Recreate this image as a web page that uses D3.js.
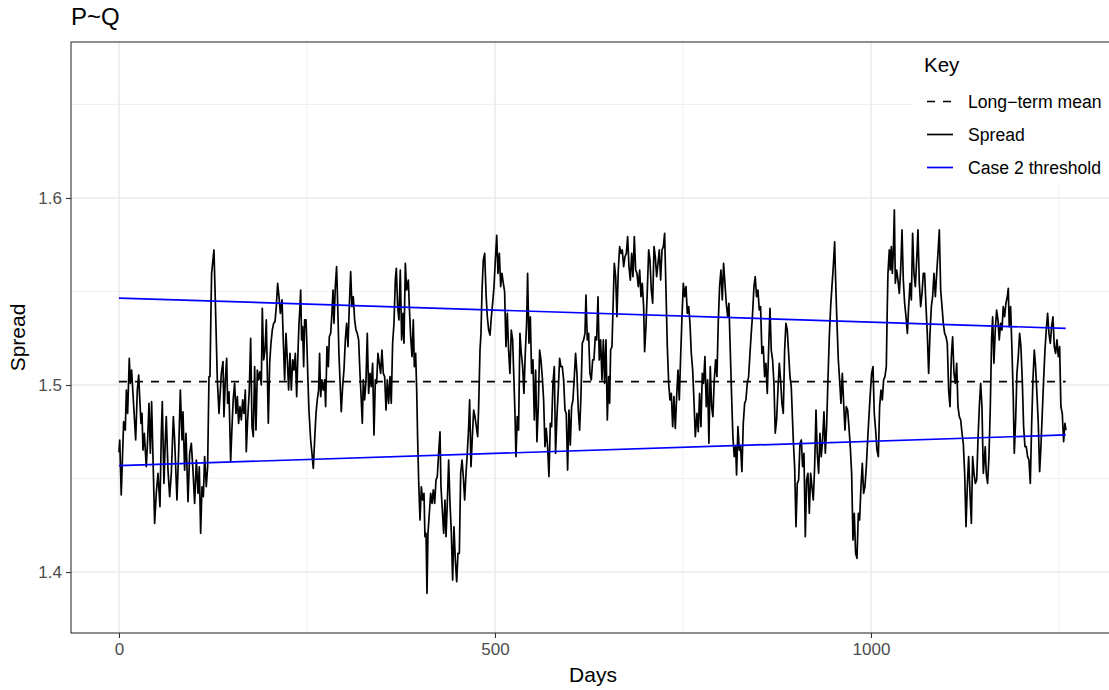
<!DOCTYPE html>
<html>
<head>
<meta charset="utf-8">
<script src="https://cdnjs.cloudflare.com/ajax/libs/d3/7.8.5/d3.min.js"></script>
<style>
  body { margin: 0; background: #fff; }
  svg text { font-family: "Liberation Sans", Arial, sans-serif; }
</style>
</head>
<body>
<div id="chart"></div>
<script>
// Spread series (day, value)
var days = [0,1,3,6.2,8.4,9.8,11.5,13.7,15.1,16.8,18.6,20.4,22.2,24.4,26.2,27.5,29.3,30.6,31.9,33.7,36.3,38.1,39.9,41.7,43.4,45.2,47.4,49.6,51.9,54.5,56.3,57.6,59.8,61.6,62.9,65.2,67.4,69.6,72.3,74,77.1,79.3,81.6,83.8,85.1,87.3,89.1,91.8,94,96.2,98.4,100.6,102.9,105.1,106.8,108.6,110.4,112.2,113.9,116.1,117.9,119.7,121,122.4,123.2,
126.3,128.1,130.8,133,136.1,138.3,139.6,141.4,143.2,144.5,146.3,148.5,150.3,152,153.8,155.6,157.4,159.1,160.9,162.7,164.5,166.2,168,169.3,171.1,173.3,175.1,176.9,178.6,180.4,182.2,184,185.7,187.5,189.3,190.6,192.4,194.2,195.9,197.3,198.6,200.4,202.1,203.9,205.7,207.5,209.2,211,212.8,214.6,216.8,218.5,220.3,222.1,223.9,225.6,227.4,229.2,231,232.7,234.5,236.3,238,239.4,240.7,241.6,242.9,244.2,245.6,246.9,248.7,250,251.3,252.6,254.9,
256.6,258.4,260.2,262,263.7,265.5,266.8,268.2,269.9,271.7,273.5,274.8,276.6,278.4,279.7,281.5,283.2,284.6,285.9,287.7,289.4,290.8,292.5,293.9,295.6,297.4,299.2,301,302.7,304.5,306.3,308.1,309.8,311.6,313.4,315.2,316.9,318.7,320.5,321.8,323.6,324.9,326.7,328.5,330.2,332,333.8,335.5,337.3,339.1,340.9,342.6,344.4,346.2,348,349.7,351.5,353.3,355.1,356.8,358.6,360.4,362.1,363.9,365.7,367.5,368.8,370.6,372.3,374.1,375.9,377.7,379,380.8,382.5,384.8,
386.1,387.9,389.7,391.4,392.8,394.5,395.9,397.2,398.5,400.3,402.1,403.8,405.6,406.9,408.3,409.6,410.9,412.7,414.5,416.3,418,419.8,421.6,423.3,425.1,426.9,428.2,430,431.8,433.5,434.9,436.6,438.4,440.2,442,443.7,445.5,447.3,449.1,450.8,452.6,454.4,456.2,457.9,459.7,461.5,463.2,465,466.3,468.1,469.9,471.7,473.4,475.2,477,478.3,480.1,481.4,482.8,484.5,486.3,488.1,489.8,491.6,493.4,495.2,496.9,498.7,500.5,502.3,504,505.8,507.6,509.3,511.1,
512.8,514.6,516.4,518.1,519.9,521.7,523.5,525.2,526.6,527.9,529.7,531.4,533.2,535,536.8,538.5,540.3,542.1,543.4,545.2,547,548.7,550.5,552.3,554.1,555.8,557.6,559.4,561.1,562.9,564.7,566.5,568.2,570,571.8,573.6,575.3,577.1,578.9,580.6,582.4,584.2,586,587.7,589.5,591.3,593.1,594.8,596.6,598.4,600.2,601.9,603.7,605.5,607.2,609,610.8,612.6,614.3,616.1,617.9,619.7,621,622.8,624.5,626.3,628.1,629.9,631.6,633.4,635.2,637,638.7,
640.5,642.3,644.1,645.8,647.6,649.4,651.2,652.5,653.8,655.6,657.4,658.7,660.5,662.2,664,665.8,667.6,669.3,671.1,672.9,674.7,676.4,678.2,680,681.8,683.5,685.3,687.1,688.8,690.6,692.4,694.2,695.9,697.7,699,700.8,702.6,704.4,706.1,707.9,709.7,711.5,713.2,715,716.8,718.5,720.3,722.1,723.9,725.6,727.4,729.2,731,732.7,734.5,736.3,738,739.8,741.6,743.4,745.1,746.9,748.7,750.5,752.2,754,755.8,757.6,759.3,761.1,762.9,764.6,766.4,
768.6,770.3,772.1,773.9,775.7,777.4,779.2,781,782.8,784.5,786.3,788.1,789.8,791.6,793.4,795.2,796.9,798.7,800.5,802.3,804,805.8,807.6,809.4,811.1,812.9,814.7,816.4,818.2,820,821.3,823.1,824.9,826.6,828.4,830.2,832,833.7,835.5,837.3,839.1,840.8,842.6,844.4,846.1,847.9,849.7,851.5,853.2,855,856.8,858.6,860.3,862.1,863.9,865.7,867.4,869.2,871,872.7,874.5,876.3,878.1,879.8,881.6,883.4,885.2,886.9,888.7,890.5,892.3,894,
896.7,898.5,900.3,902,903.8,905.6,907.4,909.1,910.9,912.7,914.4,916.2,918,919.8,921.5,923.3,925.1,926.9,928.6,930.4,932.2,933.9,935.7,937.5,939.3,941,942.8,944.6,946.4,948.1,949.9,951.7,953,954.8,956.6,958.3,960.1,961.9,963.7,965.4,967.2,969,970.7,972.5,974.3,976.1,977.8,979.6,981.4,983.2,984.9,986.7,988.5,990.2,992,993.8,995.6,997.3,999.1,1000.9,1002.7,1004.4,1006.2,1008,1009.8,1011.5,1013.3,1015.1,1016.8,1018.6,1020.4,1021.7,
1022.6,1024.4,1025.7,1027.1,1028.4,1029.7,1031.1,1032.4,1034.2,1035.9,1037.7,1039.5,1041.3,1043,1044.8,1046.6,1048.4,1050.1,1051.9,1053.7,1055.4,1057.2,1059,1060.8,1062.5,1064.3,1066.1,1067.9,1069.6,1071.4,1073.2,1074.9,1076.7,1078.5,1080.3,1082,1083.8,1085.6,1087.4,1089.1,1090.9,1092.7,1094.5,1096.2,1098,1099.8,1101.5,1103.3,1105.1,1106.9,1108.6,1110.4,1112.2,1114,1115.7,1117.5,1119.3,1121.1,1122.8,1124.6,1126.4,1128.1,1129.9,1131.7,1133.5,1135.2,1137,1138.8,1140.6,1142.3,1144.1,1145.9,1147.6,1149.4,
1152,1153.3,1155.1,1156.9,1158.7,1160.4,1161.8,1163.5,1165.3,1167.1,1168.9,1170.6,1172.4,1174.2,1175.9,1177.7,1179.5,1181.3,1182.6,1183.9,1185.7,1187.5,1189.2,1190.6,1192.4,1194.1,1195.9,1197.7,1199.4,1201.2,1203,1204.8,1206.5,1208.3,1210.1,1211.9,1213.6,1215.4,1217.2,1218.9,1220.7,1222.5,1224.3,1226,1227.8,1229.6,1231.4,1233.1,1234.9,1236.7,1238.5,1240.2,1242,1243.8,1245.5,1247.3,1249.1,1250.9,1252.6,1254.4,1256.2,1258,1259.3];

var spread = [1.4640,1.4706,1.4412,1.4804,1.4759,1.4973,1.4848,1.5143,1.5009,1.5080,1.4955,1.4831,1.4706,1.4973,1.5053,1.4938,1.4795,1.4848,1.4652,1.4742,1.4563,1.4706,1.4902,1.4635,1.4911,1.4617,1.4260,1.4421,1.4528,1.4349,1.4742,1.4911,1.4474,1.4706,1.4831,1.4545,1.4403,1.4528,1.4831,1.4706,1.4385,1.4635,1.4973,1.4706,1.4857,1.4545,1.4742,1.4376,1.4635,1.4688,1.4545,1.4367,1.4599,1.4421,1.4563,1.4207,1.4456,1.4403,1.4617,1.4456,1.4563,1.5045,1.5045,1.5419,1.5597,
1.5722,1.5455,1.5027,1.4848,1.5062,1.5125,1.4831,1.5027,1.5143,1.4902,1.4964,1.4590,1.4777,1.4929,1.5009,1.4848,1.4938,1.4795,1.4884,1.4813,1.4920,1.4848,1.4973,1.4643,1.4813,1.4973,1.5250,1.4777,1.4724,1.5098,1.4759,1.5080,1.5027,1.5071,1.5000,1.5410,1.5134,1.5187,1.5348,1.5062,1.4795,1.5116,1.5223,1.5294,1.5330,1.5339,1.5419,1.5544,1.5472,1.5383,1.5455,1.5241,1.5027,1.5276,1.5134,1.4973,1.5169,1.4973,1.5134,1.5080,1.5169,1.4938,1.5169,1.5330,1.5419,1.5508,1.5241,1.5312,1.5098,1.5348,1.5348,1.5205,1.5027,1.4866,1.4706,
1.4635,1.4554,1.4706,1.4848,1.4920,1.4973,1.5169,1.4938,1.5027,1.4973,1.5027,1.4884,1.5205,1.5098,1.5258,1.5276,1.5383,1.5508,1.5330,1.5526,1.5633,1.5437,1.5169,1.5027,1.4857,1.4991,1.5080,1.5241,1.5330,1.5205,1.5419,1.5606,1.5419,1.5472,1.5348,1.5294,1.5276,1.5241,1.5062,1.4955,1.4795,1.5027,1.4920,1.5027,1.5276,1.4955,1.5062,1.4991,1.5116,1.4733,1.5027,1.5009,1.5169,1.5116,1.5062,1.5187,1.5062,1.5045,1.4866,1.5027,1.4902,1.5045,1.4902,1.5223,1.5330,1.5561,1.5624,1.5419,1.5348,1.5615,1.5241,1.5383,1.5223,1.5651,1.5508,1.5561,
1.5419,1.5258,1.5152,1.5348,1.5098,1.5169,1.4973,1.4706,1.4492,1.4278,1.4456,1.4385,1.4421,1.4189,1.4207,1.3886,1.4207,1.4314,1.4421,1.4367,1.4439,1.4367,1.4492,1.4510,1.4635,1.4750,1.4456,1.4332,1.4207,1.4385,1.4189,1.4367,1.4599,1.4367,1.4207,1.3957,1.4242,1.4064,1.3948,1.4100,1.4100,1.4528,1.4599,1.4510,1.4385,1.4528,1.4635,1.4777,1.4920,1.4563,1.4724,1.4866,1.4831,1.4777,1.4724,1.4884,1.5187,1.5276,1.5508,1.5668,1.5704,1.5490,1.5365,1.5294,1.5267,1.5365,1.5437,1.5526,1.5668,1.5800,1.5597,1.5704,1.5526,1.5597,1.5544,
1.5500,1.5205,1.5383,1.5187,1.5062,1.5294,1.5241,1.5027,1.4848,1.4617,1.4831,1.4759,1.5276,1.5169,1.5098,1.4955,1.5169,1.5330,1.5597,1.5223,1.5365,1.5062,1.5134,1.4813,1.5080,1.4697,1.4884,1.5187,1.5134,1.5045,1.4920,1.4670,1.4768,1.4670,1.4510,1.4795,1.4777,1.5009,1.5098,1.4635,1.4831,1.4973,1.5143,1.5098,1.5098,1.5027,1.4866,1.4848,1.4545,1.4866,1.4679,1.4884,1.4920,1.5045,1.5169,1.5062,1.4866,1.4759,1.4938,1.5223,1.5241,1.5276,1.5481,1.5241,1.5276,1.5062,1.5027,1.5134,1.5134,1.5258,1.5241,1.5472,1.5134,
1.5241,1.5027,1.5241,1.5009,1.5241,1.4813,1.5045,1.4902,1.5187,1.5205,1.5472,1.5651,1.5579,1.5365,1.5615,1.5740,1.5704,1.5722,1.5633,1.5686,1.5704,1.5793,1.5633,1.5561,1.5704,1.5579,1.5793,1.5615,1.5597,1.5526,1.5615,1.5472,1.5544,1.5419,1.5178,1.5312,1.5508,1.5722,1.5668,1.5508,1.5437,1.5740,1.5686,1.5579,1.5651,1.5722,1.5561,1.5722,1.5740,1.5811,1.5508,1.5205,1.5009,1.4920,1.4955,1.4777,1.4938,1.4768,1.4938,1.5080,1.4920,1.5152,1.5365,1.5544,1.5472,1.5526,1.5383,1.5419,1.5330,1.5169,1.5080,1.4920,1.4724,
1.4848,1.4750,1.4955,1.4777,1.5062,1.5009,1.5152,1.4884,1.5027,1.4688,1.5098,1.4884,1.4831,1.5027,1.5134,1.5045,1.5330,1.5526,1.5615,1.5455,1.5651,1.5544,1.5437,1.5365,1.5437,1.5187,1.4938,1.4724,1.4617,1.4670,1.4519,1.4777,1.4652,1.4670,1.4537,1.4795,1.4902,1.4920,1.5009,1.5045,1.5169,1.5276,1.5383,1.5526,1.5579,1.5472,1.5508,1.5401,1.5419,1.5169,1.5205,1.5045,1.5116,1.4955,1.5187,1.5410,1.5187,1.5134,1.5009,1.4742,1.4813,1.4973,1.5116,1.5027,1.4902,1.4848,1.5187,1.5330,1.5294,1.5169,1.5045,1.4991,
1.4706,1.4563,1.4242,1.4474,1.4492,1.4688,1.4706,1.4563,1.4635,1.4189,1.4492,1.4528,1.4314,1.4528,1.4456,1.4385,1.4563,1.4866,1.4635,1.4528,1.4742,1.4617,1.4706,1.4857,1.4635,1.4777,1.5027,1.5258,1.5419,1.5526,1.5633,1.5766,1.5561,1.5330,1.5134,1.5027,1.4902,1.5062,1.4902,1.4759,1.4884,1.4866,1.4777,1.4670,1.4528,1.4171,1.4314,1.4100,1.4073,1.4314,1.4278,1.4456,1.4581,1.4421,1.4456,1.4563,1.4706,1.4831,1.4955,1.5062,1.5098,1.4848,1.4759,1.4652,1.4617,1.4884,1.4973,1.4920,1.5027,1.5045,1.5098,1.5419,
1.5597,1.5722,1.5615,1.5740,1.5597,1.5704,1.5936,1.5544,1.5615,1.5561,1.5490,1.5615,1.5829,1.5561,1.5437,1.5365,1.5276,1.5419,1.5544,1.5455,1.5811,1.5597,1.5526,1.5668,1.5829,1.5544,1.5419,1.5490,1.5597,1.5597,1.5419,1.5276,1.5062,1.5276,1.5419,1.5472,1.5597,1.5472,1.5597,1.5704,1.5829,1.5508,1.5419,1.5330,1.5276,1.5258,1.5223,1.4973,1.4884,1.5152,1.5258,1.5062,1.5009,1.5116,1.4884,1.4831,1.4813,1.4742,1.4688,1.4528,1.4242,1.4456,1.4617,1.4421,1.4260,1.4617,1.4528,1.4474,1.4492,1.4706,1.4884,1.5009,1.4884,1.4528,
1.4670,1.4528,1.4474,1.4617,1.4884,1.5241,1.5365,1.5116,1.5294,1.5401,1.5348,1.5241,1.5330,1.5294,1.5419,1.5365,1.5437,1.5472,1.5517,1.5312,1.5419,1.5187,1.4938,1.4635,1.4813,1.5062,1.5152,1.5276,1.5205,1.5027,1.4777,1.4670,1.4670,1.4617,1.4599,1.4474,1.4777,1.5027,1.5187,1.5098,1.4955,1.4795,1.4537,1.4670,1.4848,1.5027,1.5187,1.5294,1.5383,1.5276,1.5223,1.5312,1.5365,1.5205,1.5169,1.5241,1.5152,1.5205,1.4884,1.4848,1.4697,1.4795,1.4759];

var longTermMean = 1.5018;
var thresholdDays = [0, 1259];
var upperThreshold = [1.5465, 1.5303];
var lowerThreshold = [1.4569, 1.4733];

var xMajorTicks = [0, 500, 1000];
var xMinorTicks = [250, 750, 1250];
var yMajorTicks = [1.4, 1.5, 1.6];
var yMinorTicks = [1.45, 1.55, 1.65];

var legendKeys = [
  {label: "Long\u2212term mean", color: "#000000", dash: "8,8"},
  {label: "Spread", color: "#000000", dash: null},
  {label: "Case 2 threshold", color: "#0000FF", dash: null}
];

var W = 1109, H = 690;
// right edge of the panel sits just past the picture edge
var panel = {left: 71, top: 42, right: 1111, bottom: 633};

var svg = d3.select("#chart").append("svg")
  .attr("width", W)
  .attr("height", H);

var x = d3.scaleLinear().domain([-63.8, 1319.2]).range([panel.left, panel.right]);
var y = d3.scaleLinear().domain([1.3674, 1.6834]).range([panel.bottom, panel.top]);

svg.append("defs").append("clipPath").attr("id", "clip")
  .append("rect")
  .attr("x", panel.left).attr("y", panel.top)
  .attr("width", panel.right - panel.left)
  .attr("height", panel.bottom - panel.top);

// grid lines
var grid = svg.append("g");
grid.selectAll(".xminor").data(xMinorTicks).enter().append("line")
  .attr("x1", function(d){ return x(d); }).attr("x2", function(d){ return x(d); })
  .attr("y1", panel.top).attr("y2", panel.bottom)
  .attr("stroke", "#ebebeb").attr("stroke-width", 0.8);
grid.selectAll(".yminor").data(yMinorTicks).enter().append("line")
  .attr("x1", panel.left).attr("x2", panel.right)
  .attr("y1", function(d){ return y(d); }).attr("y2", function(d){ return y(d); })
  .attr("stroke", "#ebebeb").attr("stroke-width", 0.8);
grid.selectAll(".xmajor").data(xMajorTicks).enter().append("line")
  .attr("x1", function(d){ return x(d); }).attr("x2", function(d){ return x(d); })
  .attr("y1", panel.top).attr("y2", panel.bottom)
  .attr("stroke", "#ebebeb").attr("stroke-width", 1.6);
grid.selectAll(".ymajor").data(yMajorTicks).enter().append("line")
  .attr("x1", panel.left).attr("x2", panel.right)
  .attr("y1", function(d){ return y(d); }).attr("y2", function(d){ return y(d); })
  .attr("stroke", "#ebebeb").attr("stroke-width", 1.6);

var plot = svg.append("g").attr("clip-path", "url(#clip)");

// long-term mean
plot.append("line")
  .attr("x1", x(thresholdDays[0])).attr("x2", x(thresholdDays[1]))
  .attr("y1", y(longTermMean)).attr("y2", y(longTermMean))
  .attr("stroke", "#000").attr("stroke-width", 1.6)
  .attr("stroke-dasharray", "8,8");

// spread
var series = days.map(function(d, i){ return [d, spread[i]]; });
var line = d3.line()
  .x(function(d){ return x(d[0]); })
  .y(function(d){ return y(d[1]); });
plot.append("path")
  .datum(series)
  .attr("d", line)
  .attr("fill", "none")
  .attr("stroke", "#000")
  .attr("stroke-width", 1.7)
  .attr("stroke-linejoin", "round");

// thresholds
[upperThreshold, lowerThreshold].forEach(function(t){
  plot.append("line")
    .attr("x1", x(thresholdDays[0])).attr("x2", x(thresholdDays[1]))
    .attr("y1", y(t[0])).attr("y2", y(t[1]))
    .attr("stroke", "#0000FF").attr("stroke-width", 1.7);
});

// legend (inside panel, top right)
var lg = svg.append("g");
lg.append("rect")
  .attr("x", 913).attr("y", panel.top + 1)
  .attr("width", panel.right - 913).attr("height", 143)
  .attr("fill", "#fff");
lg.append("text")
  .attr("x", 924).attr("y", 72)
  .attr("font-size", 20.5)
  .text("Key");
legendKeys.forEach(function(k, i){
  var cy = 101.5 + i * 33;
  lg.append("line")
    .attr("x1", 927).attr("x2", 953)
    .attr("y1", cy).attr("y2", cy)
    .attr("stroke", k.color).attr("stroke-width", 1.7)
    .attr("stroke-dasharray", k.dash);
  lg.append("text")
    .attr("x", 968).attr("y", cy + 6)
    .attr("font-size", 17.6)
    .text(k.label);
});

// panel border
svg.append("rect")
  .attr("x", panel.left).attr("y", panel.top)
  .attr("width", panel.right - panel.left)
  .attr("height", panel.bottom - panel.top)
  .attr("fill", "none")
  .attr("stroke", "#333").attr("stroke-width", 1.1);

// axes
var xAxis = d3.axisBottom(x).tickValues(xMajorTicks).tickSize(5).tickPadding(5)
  .tickFormat(d3.format("d"));
var yAxis = d3.axisLeft(y).tickValues(yMajorTicks).tickSize(5).tickPadding(4)
  .tickFormat(d3.format(".1f"));

var gx = svg.append("g").attr("transform", "translate(0," + panel.bottom + ")").call(xAxis);
var gy = svg.append("g").attr("transform", "translate(" + panel.left + ",0)").call(yAxis);
[gx, gy].forEach(function(g){
  g.select(".domain").remove();
  g.selectAll(".tick line").attr("stroke", "#333").attr("stroke-width", 1.1);
  g.selectAll(".tick text")
    .attr("fill", "#4d4d4d")
    .attr("font-size", 17)
    .attr("font-family", "Liberation Sans, Arial, sans-serif");
});

// titles
svg.append("text")
  .attr("x", 593).attr("y", 682)
  .attr("text-anchor", "middle")
  .attr("font-size", 21)
  .text("Days");

svg.append("text")
  .attr("transform", "translate(25," + ((panel.top + panel.bottom) / 2) + ") rotate(-90)")
  .attr("text-anchor", "middle")
  .attr("font-size", 21)
  .text("Spread");

svg.append("text")
  .attr("x", 71).attr("y", 25)
  .attr("font-size", 24)
  .text("P~Q");
</script>
</body>
</html>
